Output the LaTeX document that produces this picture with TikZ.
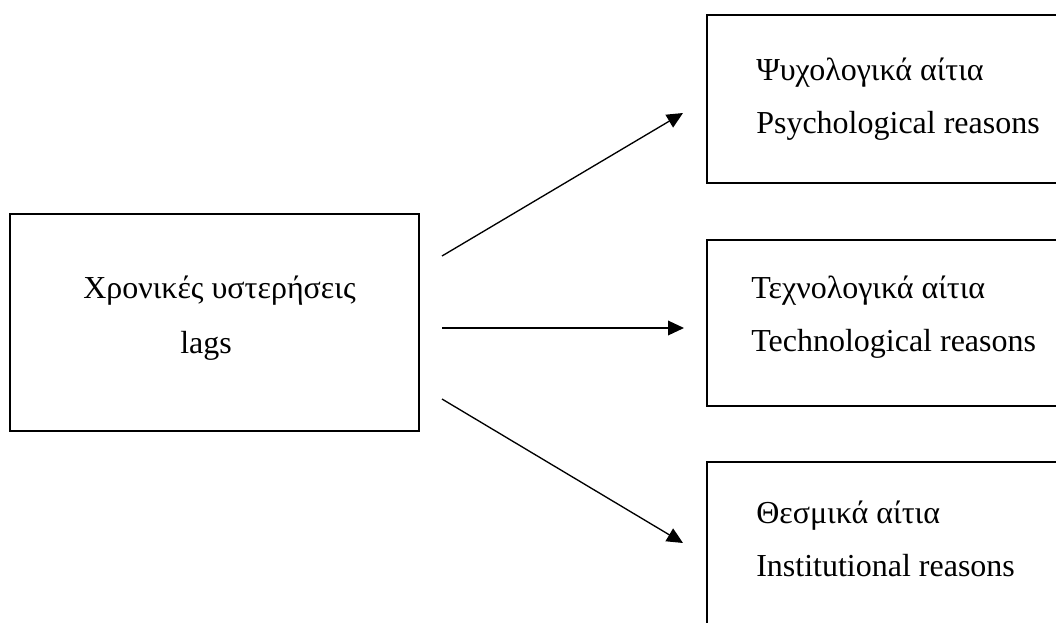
\documentclass[tikz,border=0pt]{standalone}
\usepackage{fontspec}
\setmainfont{Liberation Serif}
\usetikzlibrary{arrows.meta}
\begin{document}
\begin{tikzpicture}[x=0.75pt,y=-0.75pt,
  box/.style={draw=black,line width=1.4pt,fill=none,inner sep=0pt,outer sep=0pt},
  lbl/.style={anchor=base west,inner sep=0pt,font=\fontsize{24}{29}\selectfont},
  conn/.style={line width=1pt,-{Triangle[length=12pt,width=11pt]}}]
\useasboundingbox (0,0) rectangle (1056,622);
\clip (0,0) rectangle (1056,622);
% left box
\node[box,minimum width=409*0.75pt,minimum height=217*0.75pt] (lags) at (214.5,322.5) {};
\node[lbl] (lagsgr) at (83,298) {Χρονικές υστερήσεις};
\node[lbl] (lagsen) at (180,353) {lags};
% right boxes (extend beyond the right edge)
\node[box,minimum width=400*0.75pt,minimum height=168*0.75pt] (psy) at (907,99) {};
\node[lbl] (psygr) at (756,80) {Ψυχολογικά αίτια};
\node[lbl] (psyen) at (756,133) {Psychological reasons};
\node[box,minimum width=400*0.75pt,minimum height=166*0.75pt] (tech) at (907,323) {};
\node[lbl] (techgr) at (751,298) {Τεχνολογικά αίτια};
\node[lbl] (techen) at (751,351) {Technological reasons};
\node[box,minimum width=400*0.75pt,minimum height=200*0.75pt] (inst) at (907,562) {};
\node[lbl] (instgr) at (756,523) {Θεσμικά αίτια};
\node[lbl] (instdn) at (756,576) {Institutional reasons};
% connector end points
\coordinate (s1) at (442,256);
\coordinate (e1) at (683,113);
\coordinate (s2) at (442,328);
\coordinate (e2) at (684,328);
\coordinate (s3) at (442,399);
\coordinate (e3) at (683,543);
\draw[conn] (s1) -- (e1);
\draw[conn] (s2) -- (e2);
\draw[conn] (s3) -- (e3);
\end{tikzpicture}
\end{document}
